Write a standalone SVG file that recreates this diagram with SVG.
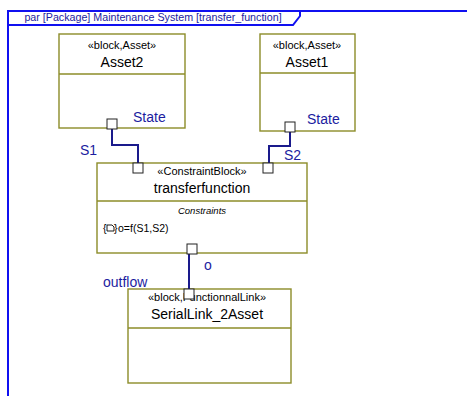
<svg xmlns="http://www.w3.org/2000/svg" width="467" height="396" viewBox="0 0 467 396">
<defs>
<style>
.frame{fill:none;stroke:#1010f0;stroke-width:2}
.blk{fill:#fff;stroke:#8c8c28;stroke-width:1.4}
.div{stroke:#8c8c28;stroke-width:1.4}
.port{fill:#fff;stroke:#222;stroke-width:1}
.conn{fill:none;stroke:#1a1a8c;stroke-width:2}
.t{font-family:"Liberation Sans",Arial,sans-serif;fill:#000;text-anchor:middle}
.ster{font-size:11px}
.name{font-size:14px}
.lbl{font-family:"Liberation Sans",Arial,sans-serif;fill:#1c1ca0;font-size:14px}
.title{font-family:"Liberation Sans",Arial,sans-serif;fill:#1c1ca0;font-size:10.7px;text-anchor:middle}
</style>
</defs>
<rect width="467" height="396" fill="#fff"/>
<g id="frame">
<path class="frame" d="M8,400 V11 H470"/>
<path class="frame" d="M8,25 H293 L300,16 V11"/>
<text class="title" x="153" y="21">par [Package] Maintenance System [transfer_function]</text>
</g>
<g id="Asset2">
<rect class="blk" x="59" y="34" width="126" height="94"/>
<line class="div" x1="59" y1="74" x2="185" y2="74"/>
<text class="t ster" x="122" y="49">«block,Asset»</text>
<text class="t name" x="122" y="67">Asset2</text>
</g>
<g id="Asset1">
<rect class="blk" x="260" y="34" width="95" height="97"/>
<line class="div" x1="260" y1="73" x2="355" y2="73"/>
<text class="t ster" x="307" y="49">«block,Asset»</text>
<text class="t name" x="307" y="67">Asset1</text>
</g>
<g id="transferfunction">
<rect class="blk" x="97" y="163" width="210" height="90"/>
<line class="div" x1="97" y1="201" x2="307" y2="201"/>
<text class="t ster" x="202" y="175">«ConstraintBlock»</text>
<text class="t name" x="202" y="193">transferfunction</text>
<text class="t" x="202" y="214" style="font-size:9.5px;font-style:italic">Constraints</text>
<text x="103" y="232" style="font-family:'Liberation Sans',Arial,sans-serif;font-size:10.5px">{</text>
<path d="M107,225 h5 l2,2 v4 h-7 z" fill="none" stroke="#000" stroke-width="0.9"/>
<text x="114" y="232" style="font-family:'Liberation Sans',Arial,sans-serif;font-size:10.5px">}</text>
<text x="118" y="232" style="font-family:'Liberation Sans',Arial,sans-serif;font-size:10.5px">o=f(S1,S2)</text>
</g>
<g id="SerialLink_2Asset">
<rect class="blk" x="128" y="289" width="163" height="94"/>
<line class="div" x1="128" y1="328" x2="291" y2="328"/>
<text class="t ster" x="207" y="301">«block,FunctionnalLink»</text>
<text class="t name" x="207" y="319">SerialLink_2Asset</text>
</g>
<g id="connectors">
<path class="conn" d="M112,129 V145 H138 V163"/>
<path class="conn" d="M290,132 V146 H269 V163"/>
<path class="conn" d="M189,254 V289"/>
</g>
<g id="ports">
<rect class="port" x="107" y="119" width="10" height="10"/>
<rect class="port" x="285" y="122" width="10" height="10"/>
<rect class="port" x="133" y="163" width="10" height="10"/>
<rect class="port" x="263" y="163" width="10" height="10"/>
<rect class="port" x="187" y="244" width="10" height="10"/>
<rect class="port" x="184" y="289" width="10" height="10"/>
</g>
<g id="labels">
<text class="lbl" x="133" y="122">State</text>
<text class="lbl" x="307" y="124">State</text>
<text class="lbl" x="80" y="155">S1</text>
<text class="lbl" x="284" y="160">S2</text>
<text class="lbl" x="204" y="270">o</text>
<text class="lbl" x="103" y="287">outflow</text>
</g>
</svg>
